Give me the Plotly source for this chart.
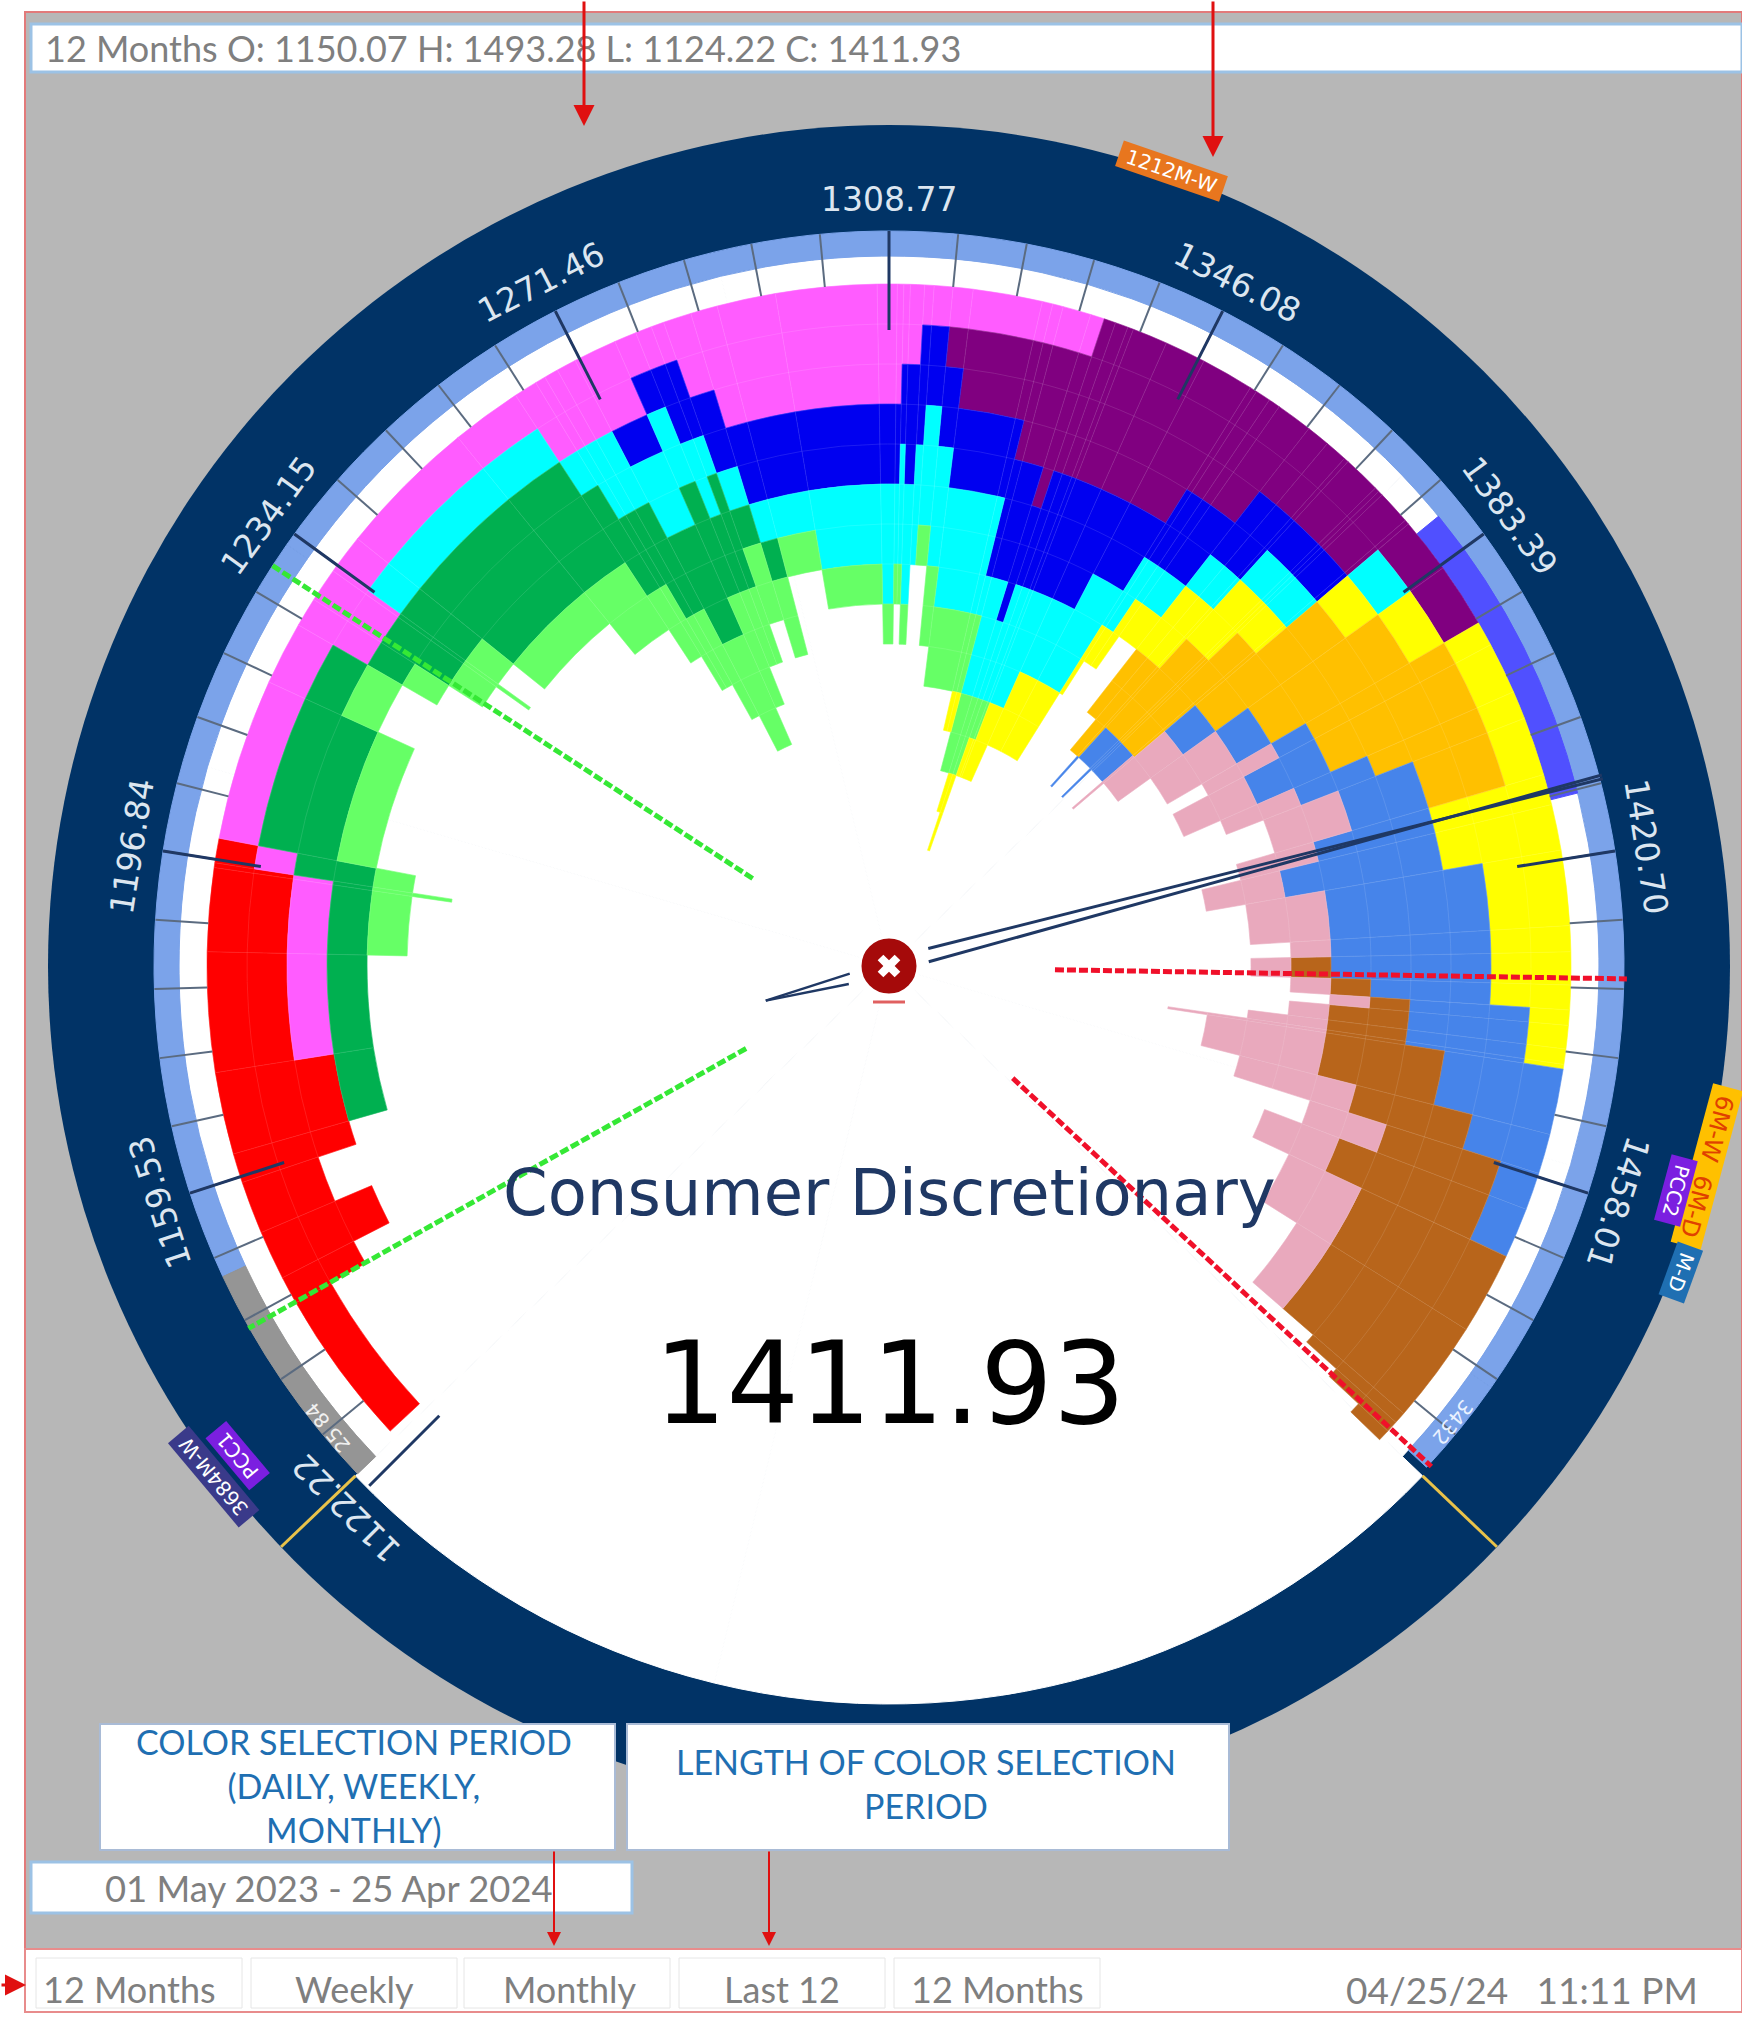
import math
import plotly.graph_objects as go

W, H = 1742, 2017
CX, CY = 889, 966
R_NAVY, R_OUT, UNIT = 841, 682, 40

# Angular bin edges (degrees clockwise from the 1308.77 tick; 37.31 price points = 27 degrees)
bin_edges = [-133, -119.6, -117.2, -113, -108.5, -106, -99, -88.8, -81.7, -81.3,
             -79.2, -65.4, -60, -57.5, -54.6, -54.2, -51.2, -39.2, -33.2, -31.2,
             -30.3, -29.1, -27.4, -23.7, -21.8, -20.4, -19.3, -16.9, -14.6, -9.6,
             -1, 0.7, 1.25, 1.8, 3, 3.8, 5.4, 7.1, 13, 13.9,
             14.8, 17.2, 18.4, 19.4, 20.5, 21, 24, 27.5, 32, 32.6,
             33.9, 34.9, 38, 40, 41.9, 42.3, 45.5, 45.9, 46.3, 49.2,
             49.6, 54.3, 59.8, 61.9, 66.3, 68.7, 73.7, 76.3, 80.2, 86.6,
             88.8, 91.6, 93.7, 95, 97, 98.3, 98.7, 104.3, 107.7, 110.9,
             115.2, 122.2, 131, 132, 133, 134]

red = [1,2,3,2,3,3,2,2,2,1, 0,0,0,0,0,0,0,0,0,0, 0,0,0,0,0,0,0,0,0,0, 0,0,0,0,0,0,0,0,0,0,
       0,0,0,0,0,0,0,0,0,0, 0,0,0,0,0,0,0,0,0,0, 0,0,0,0,0,0,0,0,0,0, 0,0,0,0,0,0,0,0,0,0, 0,0,0,0,0]
magenta = [0,0,0,0,0,0,1,1,1,1, 1,1,2,2,2,1,1,1,2,2, 2,2,2,1,1,1,2,3,3,3, 3,3,2,2,1,1,1,1,1,1,
           1,1,0,0,0,0,0,0,0,0, 0,0,0,0,0,0,0,0,0,0, 0,0,0,0,0,0,0,0,0,0, 0,0,0,0,0,0,0,0,0,0, 0,0,0,0,0]
purple = [0,0,0,0,0,0,0,0,0,0, 0,0,0,0,0,0,0,0,0,0, 0,0,0,0,0,0,0,0,0,0, 0,0,0,0,0,0,1,2,2,3,
          3,4,4,4,4,4,4,4,3,3, 3,3,2,2,2,2,2,2,2,2, 1,1,0,0,0,0,0,0,0,0, 0,0,0,0,0,0,0,0,0,0, 0,0,0,0,0]
blue = [0,0,0,0,0,0,0,0,0,0, 0,0,0,0,0,0,0,0,0,0, 0,0,1,1,2,2,2,2,2,2, 2,2,2,3,3,2,2,2,2,3,
        3,3,3,3,3,3,3,2,2,2, 2,2,2,2,2,1,1,1,1,1, 0,0,0,0,0,0,0,0,0,0, 0,0,0,0,0,0,0,0,0,0, 0,0,0,0,0]
cyan = [0,0,0,0,0,0,0,0,0,0, 0,0,0,0,0,1,1,1,1,2, 2,2,2,2,2,1,1,1,1,2, 3,2,3,3,3,3,3,3,3,1,
        3,2,3,3,3,3,2,3,2,2, 1,1,1,1,1,1,1,1,1,1, 1,0,0,0,0,0,0,0,0,0, 0,0,0,0,0,0,0,0,0,0, 0,0,0,0,0]
dark_green = [0,0,0,0,0,1,1,1,1,2, 2,1,1,2,2,2,3,3,3,2, 3,3,3,3,2,3,1,1,0,0, 0,0,0,0,0,0,0,0,0,0,
              0,0,0,0,0,0,0,0,0,0, 0,0,0,0,0,0,0,0,0,0, 0,0,0,0,0,0,0,0,0,0, 0,0,0,0,0,0,0,0,0,0, 0,0,0,0,0]
light_green = [0,0,0,0,0,0,0,1,2,1, 1,1,1,1,2,1,1,2,2,3, 2,3,3,3,2,2,2,2,1,1, 1,1,1,1,0,1,2,2,2,2,
               2,2,2,1,1,0,0,0,0,0, 0,0,0,0,0,0,0,0,0,0, 0,0,0,0,0,0,0,0,0,0, 0,0,0,0,0,0,0,0,0,0, 0,0,0,0,0]
yellow = [0,0,0,0,0,0,0,0,0,0, 0,0,0,0,0,0,0,0,0,0, 0,0,0,0,0,0,0,0,0,0, 0,0,0,0,0,0,0,0,1,1,
          0,1,2,1,1,2,2,2,2,1, 2,1,2,2,2,2,2,2,1,1, 1,1,1,1,1,1,3,3,2,2, 2,2,1,1,1,1,0,0,0,0, 0,0,0,0,0]
orange = [0,0,0,0,0,0,0,0,0,0, 0,0,0,0,0,0,0,0,0,0, 0,0,0,0,0,0,0,0,0,0, 0,0,0,0,0,0,0,0,0,0,
          0,0,0,0,0,0,0,0,0,0, 0,0,2,3,3,3,3,3,4,4, 4,4,4,4,3,2,0,0,0,0, 0,0,0,0,0,0,0,0,0,0, 0,0,0,0,0]
cornflower = [0,0,0,0,0,0,0,0,0,0, 0,0,0,0,0,0,0,0,0,0, 0,0,0,0,0,0,0,0,0,0, 0,0,0,0,0,0,0,0,0,0,
              0,0,0,0,0,0,0,0,0,0, 0,0,0,0,1,1,2,1,1,0, 1,1,1,2,2,2,3,4,4,4, 4,3,3,3,3,3,3,2,1,1, 0,0,0,0,0]
brown = [0,0,0,0,0,0,0,0,0,0, 0,0,0,0,0,0,0,0,0,0, 0,0,0,0,0,0,0,0,0,0, 0,0,0,0,0,0,0,0,0,0,
         0,0,0,0,0,0,0,0,0,0, 0,0,0,0,0,0,0,0,0,0, 0,0,0,0,0,0,0,0,0,0, 1,1,1,2,2,2,3,3,3,4, 4,4,3,2,1]
pink = [0,0,0,0,0,0,0,0,0,0, 0,0,0,0,0,0,0,0,0,0, 0,0,0,0,0,0,0,0,0,0, 0,0,0,0,0,0,0,0,0,0,
        0,0,0,0,0,0,0,0,0,0, 0,0,0,0,0,0,0,0,0,2, 2,2,2,2,2,2,2,2,2,1, 1,1,1,1,2,4,3,3,2,2, 2,1,0,0,0]

periwinkle_range = [50.7, 75.9]

series = [(red, "#FF0000"), (magenta, "#FF5CFF"), (purple, "#800080"), (blue, "#0000F0"),
          (cyan, "#00FFFF"), (dark_green, "#00B050"), (light_green, "#66FF66"), (yellow, "#FFFF00"),
          (orange, "#FFC000"), (cornflower, "#4684EA"), (brown, "#B8651B"), (pink, "#E9A9BD")]
for s, _ in series:
    assert len(s) == len(bin_edges) - 1, len(s)

tick_labels = ["1122.22", "1159.53", "1196.84", "1234.15", "1271.46", "1308.77",
               "1346.08", "1383.39", "1420.70", "1458.01"]
major_angles = [-135, -108, -81, -54, -27, 0, 27, 54, 81, 108]
minor_angles = [-135 + 5.4 * k for k in range(0, 50)]

NAVY = "#013366"
RING = "#7BA3EA"
GREY_BG = "#B7B7B7"

fig = go.Figure()


def band(theta0, theta1, r0, r1, color, step=60):
    th, wd = [], []
    a = theta0
    while a < theta1 - 1e-6:
        b = min(a + step, theta1)
        th.append((a + b) / 2)
        wd.append(b - a)
        a = b
    fig.add_trace(go.Barpolar(theta=th, width=wd, base=[r0] * len(th), r=[r1 - r0] * len(th),
                              marker=dict(color=color, line=dict(color=color, width=1)),
                              hoverinfo="skip", showlegend=False))


band(-133.7, 133.7, 0, 710, "#FFFFFF")
band(133.7, 226.3, 0, 738, "#FFFFFF")
band(-115, 133, 710, 735, RING)
band(-133.7, -115, 710, 735, "#959595")
band(periwinkle_range[0], periwinkle_range[1], 682, 710, "#5050FF")

cell_t, cell_w, cell_b = [], [], []
for k, (values, color) in enumerate(series):
    th, wd, base, rr = [], [], [], []
    for i, n in enumerate(values):
        if n == 0:
            continue
        before = sum(s[0][i] for s in series[:k])
        mid = (bin_edges[i] + bin_edges[i + 1]) / 2
        wid = bin_edges[i + 1] - bin_edges[i]
        th.append(mid)
        wd.append(wid)
        base.append(R_OUT - UNIT * (before + n))
        rr.append(UNIT * n)
        for j in range(n):
            cell_t.append(mid)
            cell_w.append(wid)
            cell_b.append(R_OUT - UNIT * (before + j + 1))
    fig.add_trace(go.Barpolar(theta=th, width=wd, base=base, r=rr,
                              marker=dict(color=color, line=dict(color=color, width=0.6)),
                              hoverinfo="skip", showlegend=False))

# faint cell outlines
fig.add_trace(go.Barpolar(theta=cell_t, width=cell_w, base=cell_b, r=[UNIT] * len(cell_t),
                          marker=dict(color="rgba(0,0,0,0)", line=dict(color="rgba(255,255,255,0.06)", width=1)),
                          hoverinfo="skip", showlegend=False))


def poly(theta, r, color, width, dash="solid"):
    fig.add_trace(go.Scatterpolar(theta=theta, r=r, mode="lines",
                                  line=dict(color=color, width=width, dash=dash),
                                  hoverinfo="skip", showlegend=False))


# minor and major ticks
t, r = [], []
for a in minor_angles:
    t += [a, a, None]
    r += [735, 682, None]
poly(t, r, "#5B6B80", 2)
t, r = [], []
for a in major_angles:
    t += [a, a, None]
    r += [735, 636, None]
poly(t, r, "#1F3864", 3)

# range limits
poly([133.7, 133.7, None, -133.7, -133.7], [738, 841, None, 738, 841], "#E8C24A", 3)

# dashed guide lines
poly([91.3, 91.0], [166, 738], "#F0102A", 5, "9px,3px")
poly([132.2, 132.7], [167, 738], "#F0102A", 5, "9px,3px")
poly([-57.3, -57.0], [162, 738], "#35E835", 5, "9px,3px")
poly([-120, -119.5], [165, 736], "#35E835", 5, "9px,3px")

# needle
poly([66, 75.3], [43, 738], "#1F3864", 3)
poly([84, 75.0], [40, 738], "#1F3864", 3)
poly([-101, -105.7], [40, 128], "#1F3864", 2.5)
poly([-114, -105.7], [44, 128], "#1F3864", 2.5)

# centre button
fig.add_trace(go.Scatterpolar(theta=[0], r=[0], mode="markers",
                              marker=dict(size=58, color="#A50A0A", line=dict(color="#FFFFFF", width=3)),
                              hoverinfo="skip", showlegend=False))
fig.add_trace(go.Scatterpolar(theta=[0], r=[0], mode="markers",
                              marker=dict(size=20, symbol="x", color="#FFFFFF", line=dict(width=0)),
                              hoverinfo="skip", showlegend=False))


def px(x):
    return x / W


def py(y):
    return 1 - y / H


shapes = []


def rect(x0, y0, x1, y1, fill, line="rgba(0,0,0,0)", lw=0, layer="above"):
    shapes.append(dict(type="rect", xref="paper", yref="paper", x0=px(x0), x1=px(x1), y0=py(y0), y1=py(y1),
                       fillcolor=fill, line=dict(color=line, width=lw), layer=layer))


rect(25, 12, 1742, 1950, GREY_BG, "#E27A7A", 2, "below")
rect(31, 24, 1742, 72, "#FFFFFF", "#9CC2E5", 3)
rect(100, 1724, 615, 1850, "#FFFFFF", "#A9BBD6", 2)
rect(627, 1724, 1229, 1850, "#FFFFFF", "#A9BBD6", 2)
rect(31, 1862, 632, 1913, "#FFFFFF", "#9CC2E5", 3)
rect(25, 1949, 1742, 2012, "#FFFFFF", "#E88C8C", 2)
for x0, x1 in [(36, 242), (251, 457), (464, 670), (679, 885), (894, 1100)]:
    rect(x0, 1958, x1, 2008, "#FFFFFF", "#E6E6E6", 1)
shapes.append(dict(type="line", xref="paper", yref="paper", x0=px(873), x1=px(905), y0=py(1002), y1=py(1002),
                   line=dict(color="#E06060", width=3), layer="above"))

ann = []


def text(x, y, s, size, color, angle=0, font="Lato", anchor="center", bg=None):
    ann.append(dict(x=px(x), y=py(y), xref="paper", yref="paper", text=s, showarrow=False, textangle=angle,
                    xanchor=anchor, yanchor="middle", bgcolor=bg,
                    font=dict(family=font, size=size, color=color)))


def arrow(x0, y0, x1, y1, width=3):
    ann.append(dict(x=px(x1), y=py(y1), xref="paper", yref="paper", ax=x0 - x1, ay=y0 - y1, axref="pixel", ayref="pixel",
                    text="", showarrow=True, arrowhead=2, arrowsize=1.4, arrowwidth=width, arrowcolor="#E01010"))


for lab, a in zip(tick_labels, major_angles):
    rr = 767
    text(CX + rr * math.sin(math.radians(a)), CY - rr * math.cos(math.radians(a)), lab, 33, "#DCE6F0", a, "DejaVu Sans")

text(889, 1193, "Consumer Discretionary", 64, "#1F3864", 0, "DejaVu Sans")
text(889, 1383, "1411.93", 114, "#000000", 0, "DejaVu Sans")
text(43, 48, "12 Months O: 1150.07 H: 1493.28 L: 1124.22 C: 1411.93", 36, "#7F7F7F", anchor="left")
text(354, 1785, "COLOR SELECTION PERIOD<br>(DAILY, WEEKLY,<br>MONTHLY)", 34, "#1F6FB2")
text(926, 1783, "LENGTH OF COLOR SELECTION<br>PERIOD", 34, "#1F6FB2")
text(329, 1888, "01 May 2023 - 25 Apr 2024", 36.4, "#7F7F7F")
for x, s in [(129, "12 Months"), (354, "Weekly"), (570, "Monthly"), (782, "Last 12"), (997, "12 Months")]:
    text(x, 1989, s, 36, "#7F7F7F")
text(1522, 1989, "04/25/24   11:11 PM", 37, "#7F7F7F")

text(1171, 171, " 1212M-W ", 20, "#FFFFFF", 19, "DejaVu Sans", bg="#E8761E")
text(1707, 1166, " 6M-W  6M-D ", 24, "#E04000", 105, "DejaVu Sans", bg="#FFC000")
text(1676, 1190, " PCC2 ", 20, "#FFFFFF", 105, "DejaVu Sans", bg="#7B1FE0")
text(1681, 1272, " M-D ", 20, "#FFFFFF", 110, "DejaVu Sans", bg="#1F6FB2")
text(238, 1456, " PCC1 ", 20, "#FFFFFF", -130, "DejaVu Sans", bg="#7B1FE0")
text(214, 1477, " 3684M-W ", 20, "#FFFFFF", -130, "DejaVu Sans", bg="#3A3A8A")
text(328, 1428, "25 84", 20, "#F0F0F0", -130, "DejaVu Sans")
text(1453, 1422, "3432", 20, "#EAF2FF", 129, "DejaVu Sans")

arrow(584, 0, 584, 126)
arrow(1213, 0, 1213, 157)
arrow(554, 1850, 554, 1946, 2)
arrow(769, 1850, 769, 1946, 2)
arrow(0, 1985, 26, 1985)

fig.update_layout(
    width=W, height=H, margin=dict(l=0, r=0, t=0, b=0), paper_bgcolor="#FFFFFF", showlegend=False,
    polar=dict(
        domain=dict(x=[(CX - R_NAVY) / W, (CX + R_NAVY) / W], y=[1 - (CY + R_NAVY) / H, 1 - (CY - R_NAVY) / H]),
        bgcolor=NAVY, barmode="overlay",
        radialaxis=dict(range=[0, R_NAVY], visible=False),
        angularaxis=dict(visible=False, rotation=90, direction="clockwise", thetaunit="degrees"),
    ),
    shapes=shapes, annotations=ann,
)
fig.write_html("out.html", config=dict(displayModeBar=False),
               post_script="document.body.style.margin='0';document.documentElement.style.overflow='hidden';")
